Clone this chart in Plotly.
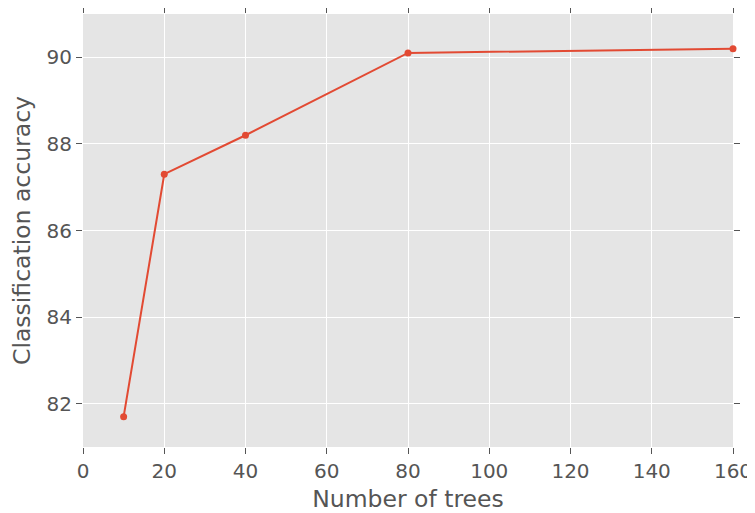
import plotly.graph_objects as go

trees = [10, 20, 40, 80, 160]
accuracy = [81.7, 87.3, 88.2, 90.1, 90.2]
x_ticks = [0, 20, 40, 60, 80, 100, 120, 140, 160]
y_ticks = [82, 84, 86, 88, 90]

fig = go.Figure()
fig.add_trace(go.Scatter(
    x=trees, y=accuracy, mode="lines+markers",
    line=dict(color="#E24A33", width=2),
    marker=dict(color="#E24A33", size=7),
    cliponaxis=False,
))

font = "DejaVu Sans, sans-serif"
# page body has an 8px default margin, so the margins are offset by it
fig.update_layout(
    width=755, height=513,
    margin=dict(l=75, r=30, t=6, b=74),
    plot_bgcolor="#E5E5E5", paper_bgcolor="white",
    showlegend=False,
    font=dict(family=font, color="#555555", size=20),
)
fig.update_xaxes(
    range=[0, 160], tickvals=x_ticks, ticks="outside", ticklen=6, tickwidth=1,
    tickcolor="#555555", mirror="ticks", showline=False, zeroline=False,
    gridcolor="white", gridwidth=1, automargin=False,
    title=dict(text="Number of trees", font=dict(size=23.5, color="#555555"), standoff=8),
    tickfont=dict(size=20, color="#555555"),
)
fig.update_yaxes(
    range=[81, 91], tickvals=y_ticks, ticks="outside", ticklen=6, tickwidth=1,
    tickcolor="#555555", mirror="ticks", showline=False, zeroline=False,
    gridcolor="white", gridwidth=1, automargin=False,
    title=dict(text="Classification accuracy", font=dict(size=23.5, color="#555555"), standoff=10),
    tickfont=dict(size=20, color="#555555"),
)
fig.write_html("out.html")
